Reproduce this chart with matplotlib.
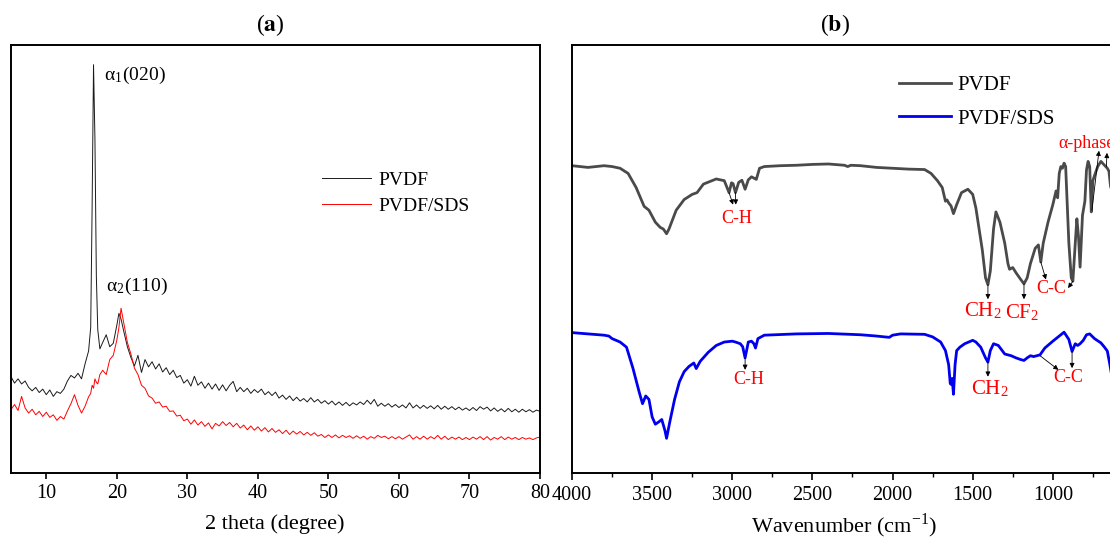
import numpy as np
import matplotlib
matplotlib.use('Agg')
from matplotlib import pyplot as plt
from matplotlib import rcParams
from matplotlib.ticker import MultipleLocator

rcParams['font.family'] = 'Liberation Serif'
rcParams['mathtext.fontset'] = 'stix'
rcParams['xtick.labelsize'] = 14.5
rcParams['axes.linewidth'] = 1.4

# ---- (a) XRD, intensity in % of panel height ----
xrd_theta = [5.0, 5.5, 6.0, 6.5, 7.0, 7.5, 8.0, 8.5, 9.0, 9.5, 10.0, 10.5, 11.0, 11.5, 12.0, 12.5,
             13.0, 13.5, 14.0, 14.5, 15.0, 15.5, 16.0, 16.3, 16.5, 16.7, 16.9, 17.1, 17.3, 17.6,
             18.0, 18.5, 19.0, 19.5, 20.0, 20.3, 20.6, 21.0, 21.5, 22.0, 22.5, 23.0, 23.5, 24.0,
             24.5, 25.0, 25.5, 26.0, 26.5, 27.0, 27.5, 28.0, 28.5, 29.0, 29.5, 30.0, 30.5, 31.0,
             31.5, 32.0, 32.5, 33.0, 33.5, 34.0, 34.5, 35.0, 35.5, 36.0, 36.5, 37.0, 37.5, 38.0,
             38.5, 39.0, 39.5, 40.0, 40.5, 41.0, 41.5, 42.0, 42.5, 43.0, 43.5, 44.0, 44.5, 45.0,
             45.5, 46.0, 46.5, 47.0, 47.5, 48.0, 48.5, 49.0, 49.5, 50.0, 50.5, 51.0, 51.5, 52.0,
             52.5, 53.0, 53.5, 54.0, 54.5, 55.0, 55.5, 56.0, 56.5, 57.0, 57.5, 58.0, 58.5, 59.0,
             59.5, 60.0, 60.5, 61.0, 61.5, 62.0, 62.5, 63.0, 63.5, 64.0, 64.5, 65.0, 65.5, 66.0,
             66.5, 67.0, 67.5, 68.0, 68.5, 69.0, 69.5, 70.0, 70.5, 71.0, 71.5, 72.0, 72.5, 73.0,
             73.5, 74.0, 74.5, 75.0, 75.5, 76.0, 76.5, 77.0, 77.5, 78.0, 78.5, 79.0, 79.5, 80.0]
xrd_pvdf = [22.5, 21.0, 22.0, 20.8, 21.5, 20.0, 19.2, 20.0, 18.8, 19.6, 18.3, 19.4, 17.9, 19.0, 18.6, 19.6,
            21.5, 22.8, 22.2, 23.3, 22.0, 25.5, 28.5, 34.0, 62.0, 95.4, 78.0, 46.0, 33.5, 29.0,
            30.5, 32.3, 29.5, 30.3, 34.5, 37.3, 36.0, 33.0, 29.5, 27.0, 25.0, 27.5, 23.5, 26.5,
            24.8, 26.0, 24.3, 25.5, 23.6, 24.6, 23.0, 24.0, 22.3, 22.8, 21.0, 21.8, 20.3, 22.6,
            20.5, 21.3, 19.8, 21.0, 19.6, 20.8, 19.3, 20.6, 19.2, 20.5, 21.4, 19.0, 20.0, 19.0,
            19.8, 18.6, 19.5, 18.8, 19.6, 18.3, 19.0, 18.1, 18.9, 17.5, 18.2, 17.2, 18.0, 16.9,
            17.7, 16.8, 17.4, 16.6, 17.6, 16.6, 17.2, 16.3, 16.9, 16.1, 16.8, 15.9, 16.6, 15.8,
            16.5, 15.7, 16.4, 15.9, 16.6, 16.0, 17.0, 16.1, 17.2, 15.6, 16.3, 15.6, 16.2, 15.4,
            16.0, 15.3, 15.9, 15.2, 16.4, 15.2, 15.9, 15.1, 15.8, 15.1, 15.7, 15.0, 15.8, 14.9,
            15.6, 14.9, 15.5, 14.8, 15.4, 14.7, 15.2, 14.6, 15.3, 14.6, 15.5, 14.9, 15.4, 14.5,
            15.2, 14.4, 15.0, 14.3, 15.1, 14.3, 14.9, 14.2, 14.9, 14.3, 14.8, 14.2, 14.7, 14.4]
xrd_sds = [14.8, 16.0, 14.6, 17.9, 15.2, 14.0, 14.9, 13.6, 14.4, 13.2, 14.2, 13.0, 13.6, 12.3, 13.2, 12.6,
           14.5, 16.2, 18.3, 15.8, 14.0, 15.6, 17.8, 18.6, 20.5, 19.8, 22.0, 21.2, 20.8, 23.0,
           24.0, 23.0, 26.5, 27.5, 31.0, 34.0, 38.5, 35.0, 30.5, 27.8, 24.5, 23.0, 20.5, 19.8,
           18.0, 17.5, 16.3, 16.6, 15.4, 15.6, 14.4, 14.5, 13.3, 13.5, 12.2, 12.6, 11.4, 12.4,
           11.2, 12.0, 10.9, 11.7, 10.3, 11.6, 11.0, 12.0, 11.1, 11.8, 10.8, 11.6, 10.5, 11.2,
           10.1, 11.0, 10.0, 10.8, 9.8, 10.6, 9.6, 10.4, 9.5, 10.1, 9.2, 10.0, 9.0, 9.8,
           9.1, 9.7, 8.9, 9.5, 8.8, 9.4, 8.6, 9.0, 8.3, 8.9, 8.3, 8.9, 8.2, 8.8,
           8.3, 8.7, 8.1, 8.7, 8.1, 8.6, 7.9, 8.5, 8.1, 8.8, 8.3, 8.6, 8.0, 8.5,
           8.0, 8.5, 7.9, 8.4, 8.9, 7.9, 8.5, 7.9, 8.6, 7.9, 8.5, 8.0, 8.8, 7.9,
           8.6, 7.8, 8.4, 7.9, 8.4, 7.8, 8.3, 7.8, 8.4, 7.9, 8.5, 7.8, 8.5, 7.7,
           8.3, 7.9, 8.5, 7.8, 8.4, 7.9, 8.3, 7.8, 8.3, 7.9, 8.2, 7.8, 8.2, 8.4]

# ---- (b) FTIR, transmittance in % of panel height ----
ir_wn_pvdf = [4000, 3900, 3800, 3750, 3700, 3650, 3600, 3550, 3520, 3480, 3450, 3430, 3410, 3395,
              3350, 3300, 3250, 3220, 3180, 3100, 3050, 3020, 3005, 2995, 2980, 2960, 2940, 2920,
              2900, 2880, 2860, 2850, 2830, 2800, 2700, 2600, 2500, 2400, 2300, 2280, 2260, 2200,
              2100, 2000, 1900, 1800, 1760, 1720, 1690, 1670, 1660, 1650, 1635, 1620, 1600, 1570,
              1530, 1500, 1480, 1460, 1440, 1420, 1405, 1390, 1370, 1355, 1330, 1300, 1280, 1270,
              1250, 1230, 1200, 1180, 1160, 1140, 1110, 1090, 1075, 1060, 1030, 1000, 980, 970,
              960, 950, 940, 930, 920, 900, 885, 875, 860, 850, 840, 830, 815, 800, 790, 780,
              770, 760, 750, 740, 720, 700, 680, 660, 650, 640, 600]
ir_pvdf = [71.8, 71.4, 71.8, 71.6, 71.2, 70.0, 66.7, 62.3, 61.4, 58.6, 57.4, 57.0, 55.9, 57.0,
           61.4, 63.9, 65.1, 65.5, 67.5, 68.7, 68.3, 65.5, 67.8, 67.6, 65.5, 67.9, 68.4, 66.3,
           68.5, 69.2, 68.8, 68.6, 71.2, 71.6, 71.8, 71.9, 72.1, 72.2, 71.9, 71.6, 71.9, 71.8,
           71.4, 71.2, 71.0, 70.9, 70.0, 68.3, 66.7, 63.5, 63.8, 63.1, 62.4, 60.6, 62.7, 65.5,
           66.3, 65.1, 61.9, 57.0, 52.1, 45.6, 44.0, 47.2, 57.0, 61.0, 58.6, 53.7, 48.9, 47.6,
           48.0, 46.8, 45.2, 44.2, 45.6, 48.9, 52.5, 53.3, 49.3, 53.7, 58.6, 62.7, 65.9, 64.3,
           70.0, 71.6, 71.2, 72.4, 71.6, 53.7, 45.6, 44.8, 53.7, 59.4, 55.3, 48.1, 60.2, 63.5,
           70.8, 72.8, 71.6, 61.0, 68.3, 69.5, 71.6, 72.8, 72.0, 71.2, 70.5, 67.0, 62.0]

ir_wn_sds = [4000, 3900, 3800, 3770, 3750, 3700, 3660, 3620, 3580, 3560, 3540, 3520, 3500, 3480,
             3460, 3440, 3420, 3410, 3390, 3360, 3330, 3300, 3270, 3240, 3225, 3200, 3150, 3100,
             3050, 3000, 2980, 2950, 2935, 2920, 2900, 2880, 2865, 2855, 2840, 2800, 2600, 2400,
             2200, 2100, 2050, 2020, 2000, 1950, 1800, 1750, 1700, 1670, 1650, 1640, 1635, 1628,
             1620, 1610, 1600, 1580, 1550, 1500, 1480, 1450, 1420, 1405, 1390, 1370, 1340, 1300,
             1260, 1230, 1200, 1180, 1160, 1140, 1120, 1100, 1080, 1050, 1000, 960, 930, 900,
             880, 860, 845, 830, 810, 790, 770, 740, 700, 680, 660, 645, 620, 600]
ir_sds = [32.8, 32.5, 32.2, 32.0, 31.4, 30.6, 29.4, 24.5, 18.8, 16.2, 18.0, 17.2, 13.1, 11.4,
          11.9, 12.5, 9.9, 8.1, 11.9, 17.2, 21.3, 23.7, 24.9, 25.7, 24.4, 26.1, 28.2, 29.8,
          30.6, 30.8, 30.6, 30.2, 29.5, 26.9, 30.6, 30.8, 30.2, 29.2, 31.4, 32.2, 32.5, 32.6,
          32.3, 32.0, 31.8, 31.7, 32.2, 32.5, 32.4, 31.8, 30.6, 28.6, 25.3, 20.9, 20.7, 22.1,
          18.4, 25.3, 28.6, 29.4, 30.2, 31.0, 30.6, 29.4, 26.9, 25.9, 28.6, 30.2, 29.8, 27.8,
          27.4, 26.9, 26.5, 26.3, 26.9, 27.4, 27.2, 27.4, 27.6, 29.2, 30.8, 32.0, 32.9, 31.2,
          28.4, 30.2, 29.8, 30.2, 31.0, 32.3, 32.5, 31.4, 30.4, 29.5, 28.5, 25.5, 20.0, 17.0]

fig = plt.figure(figsize=(11.1, 5.43), dpi=100)
axa = fig.add_axes([11/1110, 70/543, 529/1110, 428/543])
axb = fig.add_axes([572/1110, 70/543, 577/1110, 428/543])

# panel (a)
axa.plot(xrd_theta, xrd_pvdf, color='#1a1a1a', lw=0.7, label='PVDF')
axa.plot(xrd_theta, xrd_sds, color='red', lw=0.7, label='PVDF/SDS')
axa.set_xlim(5, 80)
axa.set_ylim(0, 100)
axa.set_xticks(range(10, 81, 10))
axa.set_yticks([])
axa.tick_params(axis='x', direction='out', length=4, width=1.2, pad=4)
axa.text(18.2, 93, 'α$_\\mathregular{1}$(020)', fontsize=14, ha='left', va='center')
axa.text(18.4, 43.5, 'α$_\\mathregular{2}$(110)', fontsize=14, ha='left', va='center')
axa.legend(frameon=False, loc='upper left', bbox_to_anchor=(0.588, 0.705), fontsize=14,
           handlelength=2.5, handletextpad=0.4, labelspacing=0.45, borderpad=0, borderaxespad=0)

# panel (b)
axb.plot(ir_wn_pvdf, ir_pvdf, color='#4a4a4a', lw=2.0, label='PVDF')
axb.plot(ir_wn_sds, ir_sds, color='#0000ee', lw=2.0, label='PVDF/SDS')
axb.set_xlim(4000, 400)
axb.set_ylim(0, 100)
axb.set_xticks(range(4000, 999, -500))
axb.xaxis.set_minor_locator(MultipleLocator(250))
axb.set_yticks([])
axb.tick_params(axis='x', which='major', direction='out', length=5, width=1.2, pad=4)
axb.tick_params(axis='x', which='minor', direction='out', length=3, width=1.0)
axb.legend(frameon=False, loc='upper left', bbox_to_anchor=(0.567, 0.928), fontsize=15,
           handlelength=2.5, handletextpad=0.3, labelspacing=0.65, borderpad=0, borderaxespad=0)

red = '#ff0000'
arrow = dict(arrowstyle='-|>', color='black', lw=0.6, mutation_scale=7, shrinkA=0, shrinkB=0)
# (curve point, head point) pairs
arrows_b = [((3020, 65.5), (2995, 62.7)), ((2980, 65.5), (2978, 62.7)),
            ((1405, 44.0), (1405, 40.6)), ((1180, 44.2), (1180, 40.6)),
            ((1075, 49.3), (1043, 45.2)), ((875, 44.8), (905, 43.2)),
            ((756, 61.4), (712, 75.3)), ((666, 71.6), (662, 74.8)),
            ((2920, 26.9), (2920, 24.1)), ((1405, 25.9), (1405, 22.5)),
            ((1080, 27.4), (965, 24.1)), ((880, 28.4), (880, 24.5))]
for tail, head in arrows_b:
    axb.annotate('', xy=head, xytext=tail, arrowprops=arrow)

labels_b = [(2971, 59.5, 'C-H', 13), (1436, 37.8, r'CH$_\mathregular{2}$', 15),
            (1189, 37.5, r'CF$_\mathregular{2}$', 15), (1009, 43.0, 'C-C', 13),
            (2899, 21.9, 'C-H', 13), (1393, 19.6, r'CH$_\mathregular{2}$', 15),
            (904, 22.3, 'C-C', 13)]
for x, y, s, fs in labels_b:
    axb.text(x, y, s, color=red, fontsize=fs, ha='center', va='center')
axb.text(968, 77.1, 'α-phase', color=red, fontsize=13, ha='left', va='center')

fig.text(270/1110, 1 - 25/543, r'($\mathbf{a}$)', fontsize=17, ha='center', va='center')
fig.text(835/1110, 1 - 25/543, r'($\mathbf{b}$)', fontsize=17, ha='center', va='center')
fig.text(275/1110, 1 - 524/543, '2 theta (degree)', fontsize=16, ha='center', va='center')
fig.text(844/1110, 1 - 526/543, r'Wavenumber (cm$^{\mathregular{-1}}$)', fontsize=16,
         ha='center', va='center')

fig.savefig('out.png', dpi=100)
